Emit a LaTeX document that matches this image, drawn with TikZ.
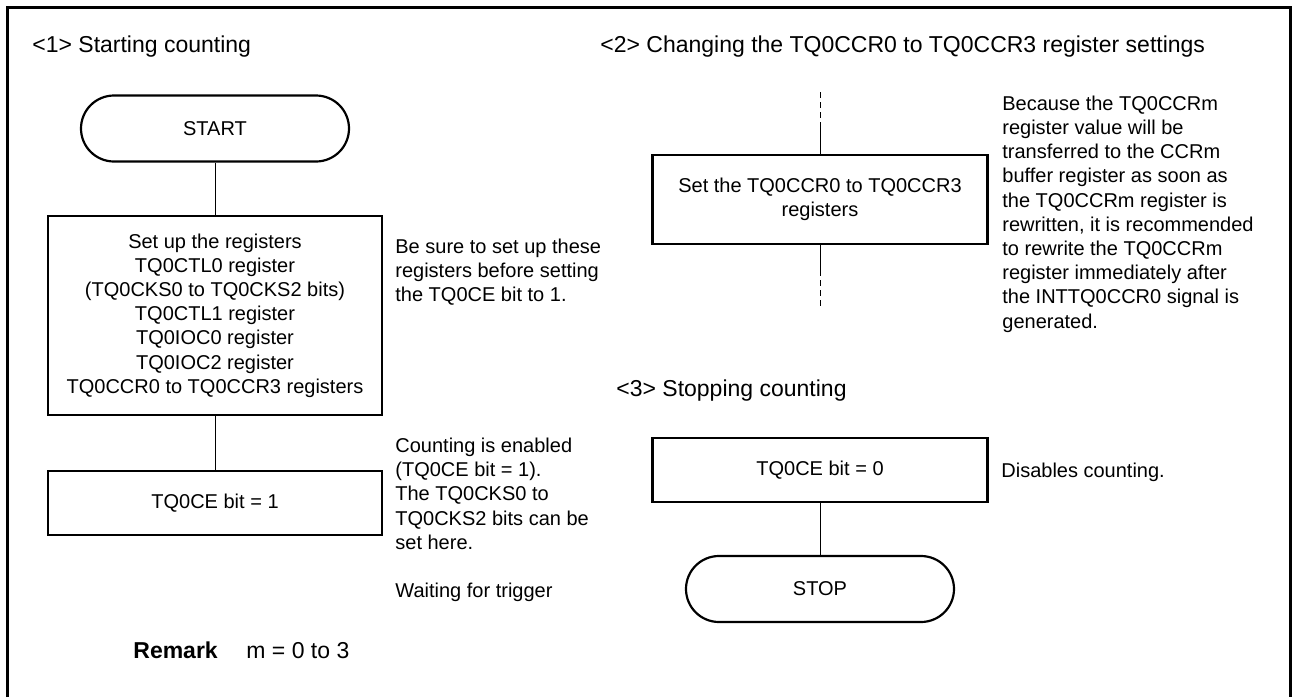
\documentclass[tikz,border=0pt]{standalone}
\usepackage{fontspec}
\setmainfont{Liberation Sans}
\usetikzlibrary{positioning}

\begin{document}
\begin{tikzpicture}[x=0.5pt, y=-0.5pt, font=\fontsize{10}{12.1}\selectfont]
  \tikzset{
    frame/.style={line width=1.5pt},
    proc/.style={draw, line width=1.1pt, minimum width=167pt, minimum height=32pt, align=center, inner sep=2pt},
    term/.style={draw, line width=1.1pt, minimum width=134pt, minimum height=33pt, rounded corners=16.5pt},
    link/.style={line width=0.5pt},
    gap/.style={line width=0.5pt, dash pattern=on 3pt off 2pt},
    note/.style={anchor=north west, align=left, inner sep=0pt},
    head/.style={anchor=base west, inner sep=0pt, font=\fontsize{11.5}{14}\selectfont}
  }
  \useasboundingbox (0,0) rectangle (1292,697);
  \draw[frame] (7.5,697) -- (7.5,7.5) -- (1290.5,7.5) -- (1290.5,697);

  % <1> starting
  \node[head] (h1) at (32,52) {<1> Starting counting};
  \node[term] (start) at (215,128.5) {START};
  \node[proc, minimum height=99.5pt] (regs) at (215,315.5) {Set up the registers\\TQ0CTL0 register\\(TQ0CKS0 to TQ0CKS2 bits)\\TQ0CTL1 register\\TQ0IOC0 register\\TQ0IOC2 register\\TQ0CCR0 to TQ0CCR3 registers};
  \node[proc] (run) at (215,503) {TQ0CE bit = 1};
  \draw[link] (start) -- (regs);
  \draw[link] (regs) -- (run);
  \node[note] (n1) at (395,238.5) {Be sure to set up these\\registers before setting\\the TQ0CE bit to 1.};
  \node[note] (n2) at (395,437.5) {Counting is enabled\\(TQ0CE bit = 1).\\The TQ0CKS0 to\\TQ0CKS2 bits can be\\set here.};
  \node[anchor=base west, inner sep=0pt] (n3) at (395,597) {Waiting for trigger};

  % <2> changing
  \node[head] (h2) at (600,52) {<2> Changing the TQ0CCR0 to TQ0CCR3 register settings};
  \coordinate (t2) at (820,92);
  \coordinate (t1) at (820,127);
  \node[proc, minimum width=167.5pt, minimum height=44.5pt] (chg) at (820,199.5) {Set the TQ0CCR0 to TQ0CCR3\\registers};
  \coordinate (b1) at (820,270);
  \coordinate (b2) at (820,307);
  \draw[gap] (t2) -- (t1);
  \draw[link] (t1) -- (chg);
  \draw[link] (chg) -- (b1);
  \draw[gap] (b1) -- (b2);
  \node[note] (n4) at (1002,95.5) {Because the TQ0CCRm\\register value will be\\transferred to the CCRm\\buffer register as soon as\\the TQ0CCRm register is\\rewritten, it is recommended\\to rewrite the TQ0CCRm\\register immediately after\\the INTTQ0CCR0 signal is\\generated.};

  % <3> stopping
  \node[head] (h3) at (616,396) {<3> Stopping counting};
  \node[proc, minimum width=167.5pt] (halt) at (820,470) {TQ0CE bit = 0};
  \node[term] (stop) at (820,589) {STOP};
  \draw[link] (halt) -- (stop);
  \node[anchor=base west, inner sep=0pt] (n5) at (1001,477) {Disables counting.};

  \node[head, font=\fontsize{11.5}{14}\selectfont\bfseries] (rem) at (133,658) {Remark};
  \node[head] (remv) at (246,658) {m = 0 to 3};
\end{tikzpicture}
\end{document}
